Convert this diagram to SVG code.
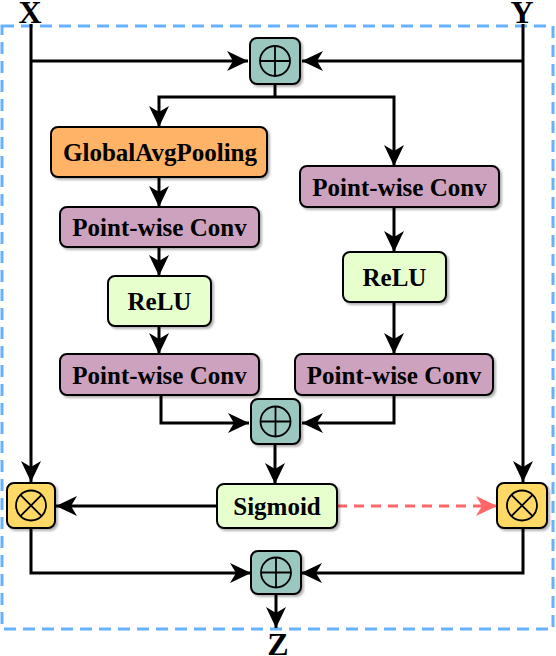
<svg xmlns="http://www.w3.org/2000/svg" width="556" height="656" viewBox="0 0 556 656">
<defs>
<marker id="ah" markerUnits="userSpaceOnUse" markerWidth="24" markerHeight="24" viewBox="-22 -11 24 22" refX="0" refY="0" orient="auto">
<path d="M0,0 L-21,-10 L-15,0 L-21,10 Z" fill="#000"/>
</marker>
<marker id="ahr" markerUnits="userSpaceOnUse" markerWidth="24" markerHeight="24" viewBox="-22 -11 24 22" refX="0" refY="0" orient="auto">
<path d="M0,0 L-21,-10 L-15,0 L-21,10 Z" fill="#FF6666"/>
</marker>
<filter id="sh" x="-20%" y="-20%" width="140%" height="140%">
<feDropShadow dx="2" dy="2" stdDeviation="0.8" flood-color="#000" flood-opacity="0.3"/>
</filter>
</defs>
<style>
.box{stroke:#000;stroke-width:2;filter:url(#sh)}
.t{font-family:"Liberation Serif","Times New Roman",serif;font-weight:bold;font-size:25px;fill:#000;text-anchor:middle;dominant-baseline:central}
.big{font-family:"Liberation Serif","Times New Roman",serif;font-weight:bold;font-size:32px;fill:#000;text-anchor:middle}
.c{fill:none;stroke:#000;stroke-width:3;marker-end:url(#ah)}
.cn{fill:none;stroke:#000;stroke-width:3}
.sym{fill:none;stroke:#000;stroke-width:1.8}
.teal{fill:#9AC7BF}
.yel{fill:#FFD966}
</style>
<rect x="2" y="26" width="551" height="603" fill="none" stroke="#66B2FF" stroke-width="3" stroke-dasharray="12 7"/>
<text class="big" x="30" y="23">X</text>
<text class="big" x="522" y="23">Y</text>
<text class="big" x="278" y="655">Z</text>
<g id="connectors">
<path class="c" d="M31,24 V482"/>
<path class="c" d="M31,61 H248"/>
<path class="c" d="M523,24 V482"/>
<path class="c" d="M523,61 H302"/>
<path class="cn" d="M275,84 V97"/>
<path class="c" d="M275,97 H159 V127"/>
<path class="c" d="M275,97 H394 V166"/>
<path class="c" d="M159,177 V207"/>
<path class="c" d="M159,247 V276"/>
<path class="c" d="M159,326 V354"/>
<path class="c" d="M394,207 V252"/>
<path class="c" d="M394,302 V354"/>
<path class="c" d="M161,395 V423 H249"/>
<path class="c" d="M394,395 V423 H302"/>
<path class="c" d="M275,444 V484"/>
<path class="c" d="M217,506 H56"/>
<path fill="none" stroke="#FF6666" stroke-width="3" stroke-dasharray="10 7" marker-end="url(#ahr)" d="M337,506 H497"/>
<path class="c" d="M31,529 V573 H251"/>
<path class="c" d="M523,529 V573 H301"/>
<path class="c" d="M276,594 V628"/>
</g>
<g id="add_top">
<rect class="box teal" x="250" y="38" width="50" height="46" rx="7"/>
<circle class="sym" cx="275" cy="61" r="15"/>
<path class="sym" d="M260,61 H290 M275,46 V76"/>
</g>
<g id="gap">
<rect class="box" x="51" y="127" width="216" height="50" rx="7" fill="#FFB366"/>
<text class="t" x="160" y="152">GlobalAvgPooling</text>
</g>
<g id="pwc_l1">
<rect class="box" x="60" y="207" width="199" height="40" rx="7" fill="#CDA2BE"/>
<text class="t" x="159.5" y="227">Point-wise Conv</text>
</g>
<g id="relu_l">
<rect class="box" x="108" y="276" width="103" height="50" rx="7" fill="#E6FFCC"/>
<text class="t" x="159.5" y="301">ReLU</text>
</g>
<g id="pwc_l2">
<rect class="box" x="60" y="354" width="199" height="41" rx="7" fill="#CDA2BE"/>
<text class="t" x="159.5" y="375">Point-wise Conv</text>
</g>
<g id="pwc_r1">
<rect class="box" x="300" y="166" width="199" height="41" rx="7" fill="#CDA2BE"/>
<text class="t" x="399.5" y="187">Point-wise Conv</text>
</g>
<g id="relu_r">
<rect class="box" x="343" y="252" width="103" height="50" rx="7" fill="#E6FFCC"/>
<text class="t" x="394.5" y="277">ReLU</text>
</g>
<g id="pwc_r2">
<rect class="box" x="295" y="354" width="198" height="41" rx="7" fill="#CDA2BE"/>
<text class="t" x="394" y="375">Point-wise Conv</text>
</g>
<g id="add_mid">
<rect class="box teal" x="251" y="399" width="49" height="45" rx="7"/>
<circle class="sym" cx="275.5" cy="421.5" r="15"/>
<path class="sym" d="M260.5,421.5 H290.5 M275.5,406.5 V436.5"/>
</g>
<g id="sigmoid">
<rect class="box" x="217" y="484" width="120" height="44" rx="7" fill="#E6FFCC"/>
<text class="t" x="277" y="506">Sigmoid</text>
</g>
<g id="mul_l">
<rect class="box yel" x="7" y="483" width="48" height="45" rx="7"/>
<circle class="sym" cx="31" cy="505.5" r="15"/>
<path class="sym" d="M20.4,494.9 L41.6,516.1 M41.6,494.9 L20.4,516.1"/>
</g>
<g id="mul_r">
<rect class="box yel" x="497" y="483" width="50" height="45" rx="7"/>
<circle class="sym" cx="522" cy="505.5" r="15"/>
<path class="sym" d="M511.4,494.9 L532.6,516.1 M532.6,494.9 L511.4,516.1"/>
</g>
<g id="add_bot">
<rect class="box teal" x="251" y="551" width="50" height="43" rx="7"/>
<circle class="sym" cx="276" cy="572.5" r="15"/>
<path class="sym" d="M261,572.5 H291 M276,557.5 V587.5"/>
</g>
</svg>
